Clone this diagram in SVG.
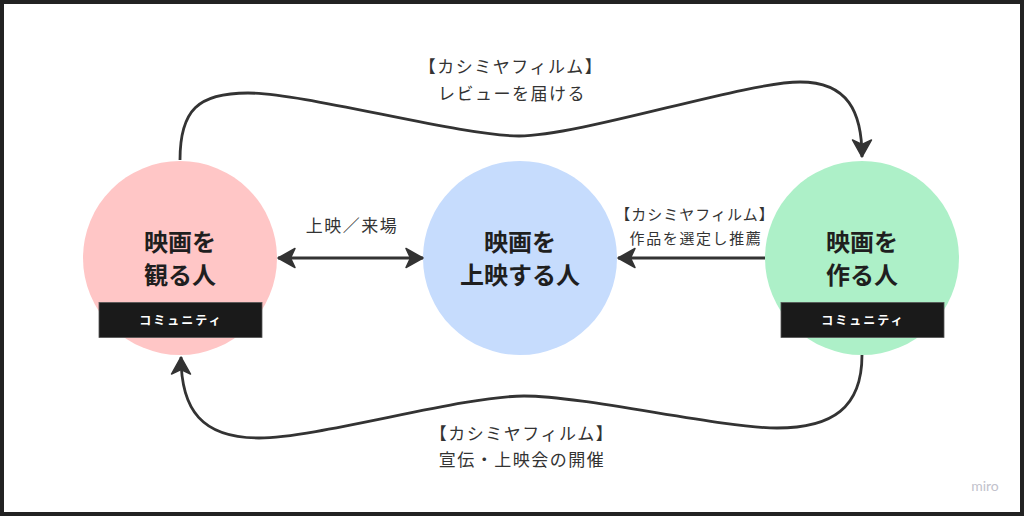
<svg xmlns="http://www.w3.org/2000/svg" width="1024" height="516" viewBox="0 0 1024 516">
<style>
.frame{fill:#ffffff;stroke:#222222;stroke-width:4}
.node-title{font-family:"Noto Sans CJK JP","Noto Sans",sans-serif;font-weight:700;font-size:24px;fill:#1f1f1f;text-anchor:middle}
.tag-box{fill:#1a1a1a;stroke:#555555;stroke-width:0.8}
.tag-text{font-family:"Noto Sans CJK JP","Noto Sans",sans-serif;font-weight:700;font-size:12px;fill:#ffffff;text-anchor:middle;letter-spacing:2px}
.lbl{font-family:"Noto Sans CJK JP","Noto Sans",sans-serif;font-size:17px;fill:#333333;text-anchor:middle;letter-spacing:1.5px}
.lbl-s{font-family:"Noto Sans CJK JP","Noto Sans",sans-serif;font-size:15px;fill:#333333;text-anchor:middle;letter-spacing:1px}
.conn{fill:none;stroke:#333333;stroke-width:2.8}
.wm{font-family:"Lato","Noto Sans",sans-serif;font-size:14px;fill:#c2c2cc;text-anchor:middle}
</style>
<defs>
<marker id="arrow" markerUnits="userSpaceOnUse" markerWidth="22" markerHeight="22" viewBox="0 0 22 22" refX="19" refY="11" orient="auto-start-reverse">
<path d="M2,1.5 L19,11 L2,20.5 L6.5,11 Z" fill="#333333" stroke="#333333" stroke-width="1.5" stroke-linejoin="round"/>
</marker>
</defs>
<rect class="frame" x="2" y="2" width="1020" height="512"/>

<g id="node-viewers">
<circle cx="180" cy="258" r="97" fill="#ffc6c6"/>
<text class="node-title" x="180" y="251">映画を</text>
<text class="node-title" x="180" y="284">観る人</text>
<rect class="tag-box" x="99" y="302.5" width="163" height="35"/>
<text class="tag-text" x="181" y="325">コミュニティ</text>
</g>

<g id="node-screeners">
<circle cx="520" cy="258" r="97" fill="#c6dcfd"/>
<text class="node-title" x="520" y="251">映画を</text>
<text class="node-title" x="520" y="284">上映する人</text>
</g>

<g id="node-makers">
<circle cx="862" cy="258" r="97" fill="#adf0c8"/>
<text class="node-title" x="862" y="251">映画を</text>
<text class="node-title" x="862" y="284">作る人</text>
<rect class="tag-box" x="781" y="302.5" width="163" height="35"/>
<text class="tag-text" x="863" y="325">コミュニティ</text>
</g>

<g id="connectors">
<path class="conn" marker-end="url(#arrow)" d="M180,160 C180,110 198,93 248,93 C305,93 460,136 519,136 C580,136 745,82 800,82 C848,82 862,112 862,157"/>
<path class="conn" marker-end="url(#arrow)" d="M862,355 C862,408 832,428 777,428 C720,428 585,396 524,396 C462,396 318,438 259,438 C202,438 181,410 181,357"/>
<path class="conn" marker-start="url(#arrow)" marker-end="url(#arrow)" d="M278,258 L423,258"/>
<path class="conn" marker-end="url(#arrow)" d="M765,258 L618,258"/>
</g>

<g id="labels">
<text class="lbl" x="511" y="73">【カシミヤフィルム】</text>
<text class="lbl" x="512" y="100">レビューを届ける</text>
<text class="lbl" x="352" y="232">上映／来場</text>
<text class="lbl-s" x="695" y="220">【カシミヤフィルム】</text>
<text class="lbl-s" x="696" y="244" style="letter-spacing:1.6px">作品を選定し推薦</text>
<text class="lbl" x="522" y="440">【カシミヤフィルム】</text>
<text class="lbl" x="522" y="466">宣伝・上映会の開催</text>
</g>

<text class="wm" x="985" y="491">miro</text>
</svg>
